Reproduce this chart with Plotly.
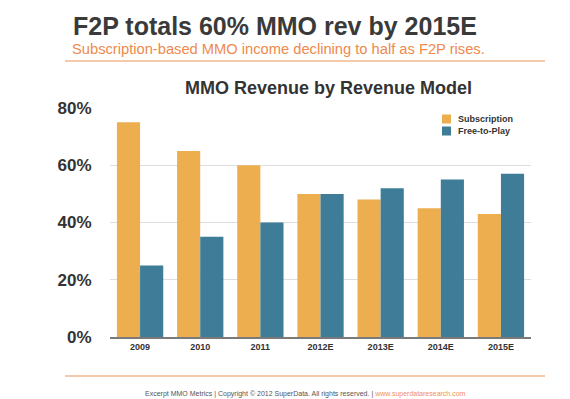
import plotly.graph_objects as go

years = ["2009", "2010", "2011", "2012E", "2013E", "2014E", "2015E"]
subscription = [75, 65, 60, 50, 48, 45, 43]
free_to_play = [25, 35, 40, 50, 52, 55, 57]
y_ticks = [0, 20, 40, 60, 80]
series_names = ["Subscription", "Free-to-Play"]

ORANGE = "#EDAE4F"
BLUE = "#3F7C97"
LINE_ORANGE = "#F2B88E"
FONT = "Liberation Sans, Arial, Helvetica, sans-serif"

W, H = 570, 399
L, R, T, B = 102, 47, 100, 70
pw, ph = W - L - R, H - T - B


def px(x):
    return (x - L) / pw


def py(y):
    return (H - B - y) / ph


fig = go.Figure()
fig.add_trace(go.Bar(x=years, y=subscription, name=series_names[0],
                     marker=dict(color=ORANGE, line=dict(width=0))))
fig.add_trace(go.Bar(x=years, y=free_to_play, name=series_names[1],
                     marker=dict(color=BLUE, line=dict(width=0))))

fig.update_layout(
    width=W, height=H,
    margin=dict(l=L, r=R, t=T, b=B, pad=0),
    paper_bgcolor="white", plot_bgcolor="white",
    barmode="group", bargap=0.23, bargroupgap=0,
    font=dict(family=FONT, color="#333333"),
    showlegend=False,
    xaxis=dict(showgrid=False, showline=True, linecolor="#7a7a7a", linewidth=2,
               ticks="", tickfont=dict(size=9, color="#333333", weight="bold"),
               fixedrange=True),
    yaxis=dict(range=[0, 80], tickvals=y_ticks,
               ticktext=[f"{v}%" for v in y_ticks],
               showgrid=True, gridcolor="#dedede", gridwidth=1,
               zeroline=False, showline=False,
               ticks="outside", ticklen=14, tickcolor="rgba(0,0,0,0)",
               tickfont=dict(size=17, color="#333333", weight="bold"),
               fixedrange=True),
)

annotations = [
    dict(text="F2P totals 60% MMO rev by 2015E", x=px(63), y=py(18),
         xanchor="left", yanchor="middle",
         font=dict(size=25, color="#3a3a3a", weight="bold")),
    dict(text="Subscription-based MMO income declining to half as F2P rises.",
         x=px(62), y=py(41.5), xanchor="left", yanchor="middle",
         font=dict(size=14.7, color="#EE8A4C")),
    dict(text="MMO Revenue by Revenue Model", x=px(320), y=py(79.5),
         xanchor="center", yanchor="middle",
         font=dict(size=18, color="#333333", weight="bold")),
    dict(text="Excerpt MMO Metrics | Copyright © 2012 SuperData. All rights reserved. | "
              "<span style='color:#F0905A'>www.superdataresearch.com</span>",
         x=px(297.5), y=py(386), xanchor="center", yanchor="middle",
         font=dict(size=7, color="#555555")),
]

# legend (drawn manually to match the compact spacing of the original)
legend_colors = [ORANGE, BLUE]
for i, (name, col) in enumerate(zip(series_names, legend_colors)):
    cy = 111 + 12 * i
    fig.add_shape(type="rect", xref="paper", yref="paper",
                  x0=px(434), x1=px(443), y0=py(cy - 4.5), y1=py(cy + 4.5),
                  fillcolor=col, line=dict(width=0))
    annotations.append(dict(text=name, x=px(448), y=py(cy),
                            xanchor="left", yanchor="middle",
                            font=dict(size=9, color="#333333", weight="bold")))

for a in annotations:
    a.update(xref="paper", yref="paper", showarrow=False)
fig.update_layout(annotations=annotations)

fig.add_shape(type="line", xref="paper", yref="paper",
              x0=px(57), x1=px(537), y0=py(53), y1=py(53),
              line=dict(color=LINE_ORANGE, width=1.5))
fig.add_shape(type="line", xref="paper", yref="paper",
              x0=px(57), x1=px(537), y0=py(368), y1=py(368),
              line=dict(color=LINE_ORANGE, width=1.5))

fig.write_html("out.html")
